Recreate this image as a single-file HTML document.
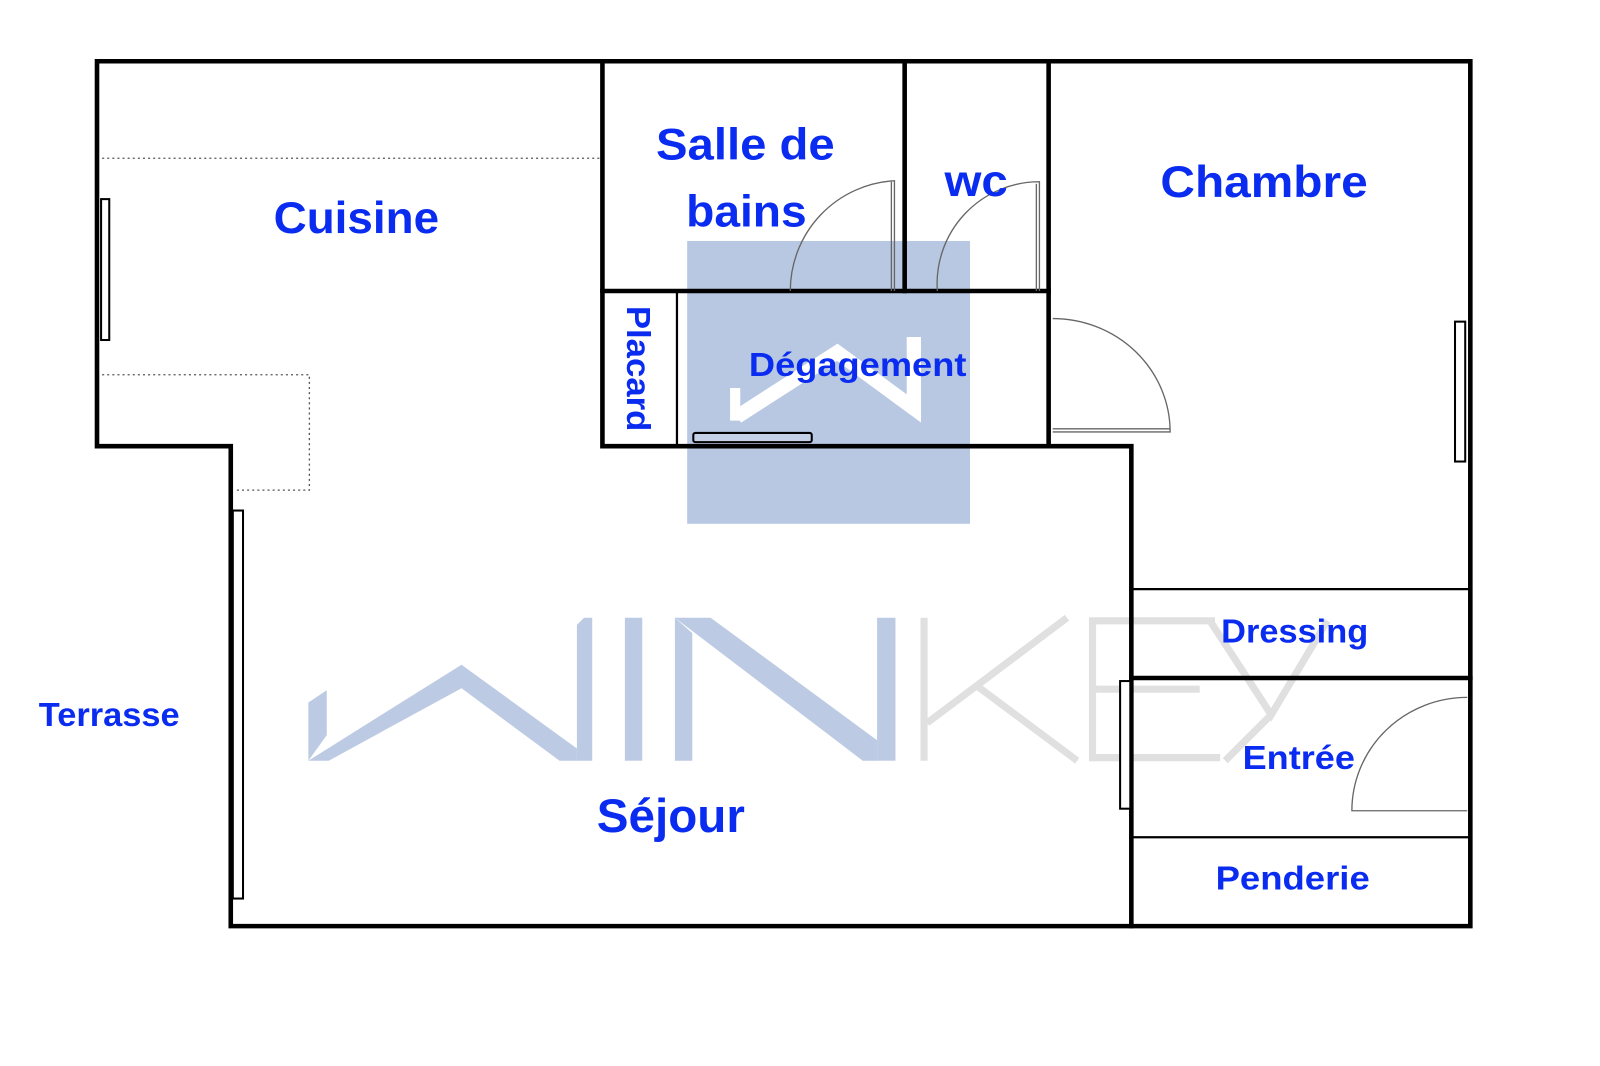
<!DOCTYPE html>
<html><head><meta charset="utf-8"><style>
html,body{margin:0;padding:0;background:#fff;}
svg{display:block;}
text{font-family:"Liberation Sans",sans-serif;font-weight:bold;fill:#0a2cf0;}
</style></head><body>
<svg width="1600" height="1066" viewBox="0 0 1567 1044" preserveAspectRatio="none" xmlns="http://www.w3.org/2000/svg">
<rect width="1567" height="1044" fill="#fff"/>
<!-- watermark -->
<rect x="673" y="236" width="277" height="277" fill="#b8c8e2"/>
<g fill="none">
<polyline points="720,412 720,380" stroke="#fff" stroke-width="10"/>
<polyline points="722,408 820,345 895,400 895,330" stroke="#fff" stroke-width="14"/>
</g>
<g fill="#bccbe3">
<polygon points="302,688 320,676 320,720 302,745"/>
<polygon points="302,745 452,651 565,733 565,745 548,745 452,674 322,745"/>
<polygon points="565,612 572,605 580,605 580,745 565,745"/>
<rect x="612" y="605" width="17" height="140"/>
<polygon points="661,605 678,620 678,745 661,745"/>
<polygon points="661,605 696,605 859,725 859,745 845,745"/>
<rect x="859" y="605" width="18" height="140"/>
</g>
<g fill="none" stroke="#e0e0e0" stroke-width="7">
<path d="M905,605 V745"/>
<path d="M1045,605 L908,708"/>
<path d="M957,672 L1055,745"/>
<path d="M1190,608 H1070 V742 H1195 M1070,675 H1175"/>
<path d="M1185,608 L1245,700 L1300,608 M1245,700 L1200,745"/>
</g>
<!-- dotted -->
<g stroke="#555" stroke-width="1.3" stroke-dasharray="2,3" fill="none">
<path d="M100,155 H588"/>
<path d="M100,367 H303 V480 H230"/>
</g>
<!-- walls -->
<g stroke="#000" stroke-width="4.5" fill="none" stroke-linecap="square">
<path d="M95,60 H1440 V907 H226 V437 H95 Z"/>
<path d="M590,60 V437 H1108 V907"/>
<path d="M590,285 H1027"/>
<path d="M886,60 V285"/>
<path d="M1027,60 V437"/>
<path d="M1108,664 H1440"/>
</g>
<g stroke="#000" stroke-width="2.2" fill="none">
<path d="M663,285 V437"/>
<path d="M1108,577 H1440"/>
<path d="M1108,820 H1440"/>
</g>
<!-- windows -->
<g stroke="#000" stroke-width="2" fill="#fff">
<rect x="99" y="195" width="8" height="138"/>
<rect x="1425" y="315" width="10" height="137"/>
<rect x="228" y="500" width="10" height="380"/>
<rect x="1097" y="667" width="10" height="125"/>
<rect x="679" y="424" width="116" height="9" rx="2" fill="#c4d0e6"/>
</g>
<!-- doors -->
<g stroke="#666" stroke-width="1.3" fill="none">
<path d="M876,285 V177 A108,108 0 0 0 774,285"/>
<path d="M873,285 V178"/>
<path d="M1018,285 V178 A100,100 0 0 0 918,285"/>
<path d="M1015,285 V180"/>
<path d="M1031,423 H1146 A115,111 0 0 0 1031,312"/>
<path d="M1031,420 H1146"/>
<path d="M1437,794 H1324 A113,111 0 0 1 1437,683"/>
</g>
<!-- labels -->
<text x="349" y="228" font-size="44" text-anchor="middle" textLength="162" lengthAdjust="spacingAndGlyphs">Cuisine</text>
<text x="730" y="156" font-size="44" text-anchor="middle" textLength="175" lengthAdjust="spacingAndGlyphs">Salle de</text>
<text x="731" y="222" font-size="44" text-anchor="middle" textLength="118" lengthAdjust="spacingAndGlyphs">bains</text>
<text x="956" y="192" font-size="44" text-anchor="middle" textLength="62" lengthAdjust="spacingAndGlyphs">wc</text>
<text x="1238" y="193" font-size="44" text-anchor="middle" textLength="203" lengthAdjust="spacingAndGlyphs">Chambre</text>
<text x="840" y="368" font-size="33" text-anchor="middle" textLength="213" lengthAdjust="spacingAndGlyphs">Dégagement</text>
<text transform="translate(614,361) rotate(90)" font-size="33" text-anchor="middle" textLength="123" lengthAdjust="spacingAndGlyphs">Placard</text>
<text x="107" y="711" font-size="33" text-anchor="middle" textLength="138" lengthAdjust="spacingAndGlyphs">Terrasse</text>
<text x="657" y="815" font-size="46" text-anchor="middle" textLength="145" lengthAdjust="spacingAndGlyphs">Séjour</text>
<text x="1268" y="629" font-size="33" text-anchor="middle" textLength="144" lengthAdjust="spacingAndGlyphs">Dressing</text>
<text x="1272" y="753" font-size="33" text-anchor="middle" textLength="110" lengthAdjust="spacingAndGlyphs">Entrée</text>
<text x="1266" y="871" font-size="33" text-anchor="middle" textLength="151" lengthAdjust="spacingAndGlyphs">Penderie</text>
</svg>
</body></html>
